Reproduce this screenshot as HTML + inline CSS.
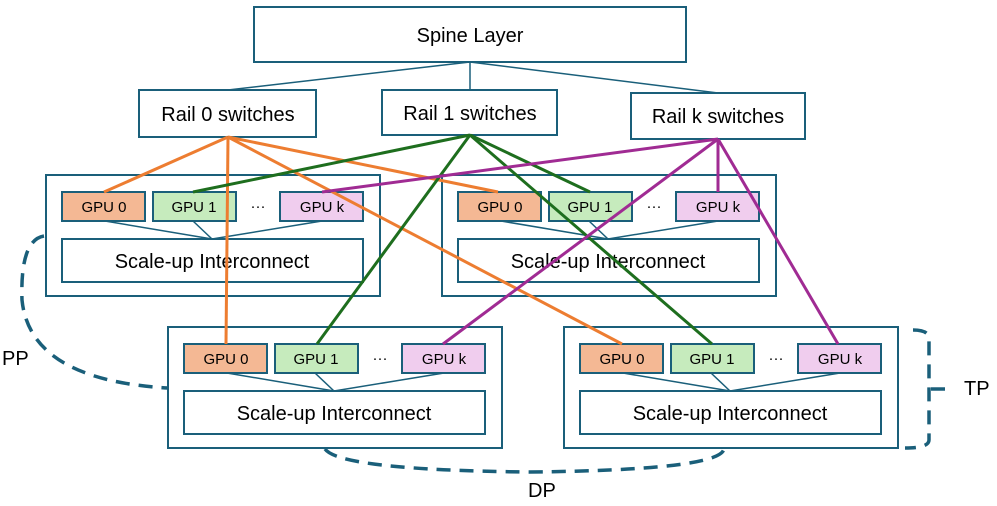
<!DOCTYPE html><html><head><style>body{margin:0;background:#fff}svg text{font-family:"Liberation Sans",sans-serif;fill:#000}</style></head><body>
<svg width="997" height="501" viewBox="0 0 997 501" xmlns="http://www.w3.org/2000/svg">
<g stroke="#1a5f7a" stroke-width="1.5" fill="none">
<line x1="470" y1="62" x2="228" y2="90"/><line x1="470" y1="62" x2="470" y2="90"/><line x1="470" y1="62" x2="718" y2="93"/>
</g>
<g stroke="#1a5f7a" stroke-width="2" fill="#fff">
<rect x="254" y="7" width="432" height="55"/>
<rect x="139" y="90" width="177" height="47"/>
<rect x="382" y="90" width="175" height="45"/>
<rect x="631" y="93" width="174" height="46"/>
</g>
<g font-size="20" text-anchor="middle">
<text x="470" y="42">Spine Layer</text>
<text x="228" y="121">Rail 0 switches</text>
<text x="470" y="120">Rail 1 switches</text>
<text x="718" y="123">Rail k switches</text>
</g>
<defs><g id="node">
<rect x="0" y="0" width="334" height="121" fill="#fff" stroke="#1a5f7a" stroke-width="2"/>
<g stroke="#1a5f7a" stroke-width="1.5"><line x1="59" y1="46" x2="166" y2="64"/><line x1="147" y1="46" x2="166" y2="64"/><line x1="276" y1="46" x2="166" y2="64"/></g>
<rect x="16" y="17" width="83" height="29" fill="#f4b894" stroke="#1a5f7a" stroke-width="2"/>
<rect x="107" y="17" width="83" height="29" fill="#c6ebbd" stroke="#1a5f7a" stroke-width="2"/>
<rect x="234" y="17" width="83" height="29" fill="#f0cdee" stroke="#1a5f7a" stroke-width="2"/>
<rect x="16" y="64" width="301" height="43" fill="#fff" stroke="#1a5f7a" stroke-width="2"/>
<g font-size="15" text-anchor="middle"><text x="58" y="37">GPU 0</text><text x="148" y="37">GPU 1</text><text x="212" y="36">···</text><text x="276" y="37">GPU k</text></g>
<text x="166" y="93" font-size="20" text-anchor="middle">Scale-up Interconnect</text>
</g></defs>
<use href="#node" x="46" y="175"/><use href="#node" x="442" y="175"/>
<use href="#node" x="168" y="327"/><use href="#node" x="564" y="327"/>
<g stroke-width="3" fill="none">
<g stroke="#ed7d31"><line x1="228" y1="137" x2="104" y2="192"/><line x1="228" y1="137" x2="498" y2="192"/><line x1="228" y1="137" x2="226" y2="344"/><line x1="228" y1="137" x2="622" y2="344"/></g>
<g stroke="#1e6e1e"><line x1="470" y1="135" x2="193" y2="192"/><line x1="470" y1="135" x2="590" y2="192"/><line x1="470" y1="135" x2="317" y2="344"/><line x1="470" y1="135" x2="712" y2="344"/></g>
<g stroke="#a02b93"><line x1="718" y1="139" x2="322" y2="192"/><line x1="718" y1="139" x2="718" y2="192"/><line x1="718" y1="139" x2="443" y2="344"/><line x1="718" y1="139" x2="838" y2="344"/></g>
</g>
<g stroke="#1a5f7a" stroke-width="3.5" fill="none" stroke-dasharray="14,9">
<path d="M44,236 Q20,240 22,300 Q30,380 168,388"/>
<path d="M913,330 Q930,330 929,340 L929,440 Q929,448 905,448"/>
<path d="M931,389 L950,389"/>
<path d="M325,449 Q340,470 530,472 Q720,470 724,449"/>
</g>
<g font-size="20"><text x="2" y="365">PP</text><text x="964" y="395">TP</text><text x="528" y="497">DP</text></g>
</svg></body></html>
